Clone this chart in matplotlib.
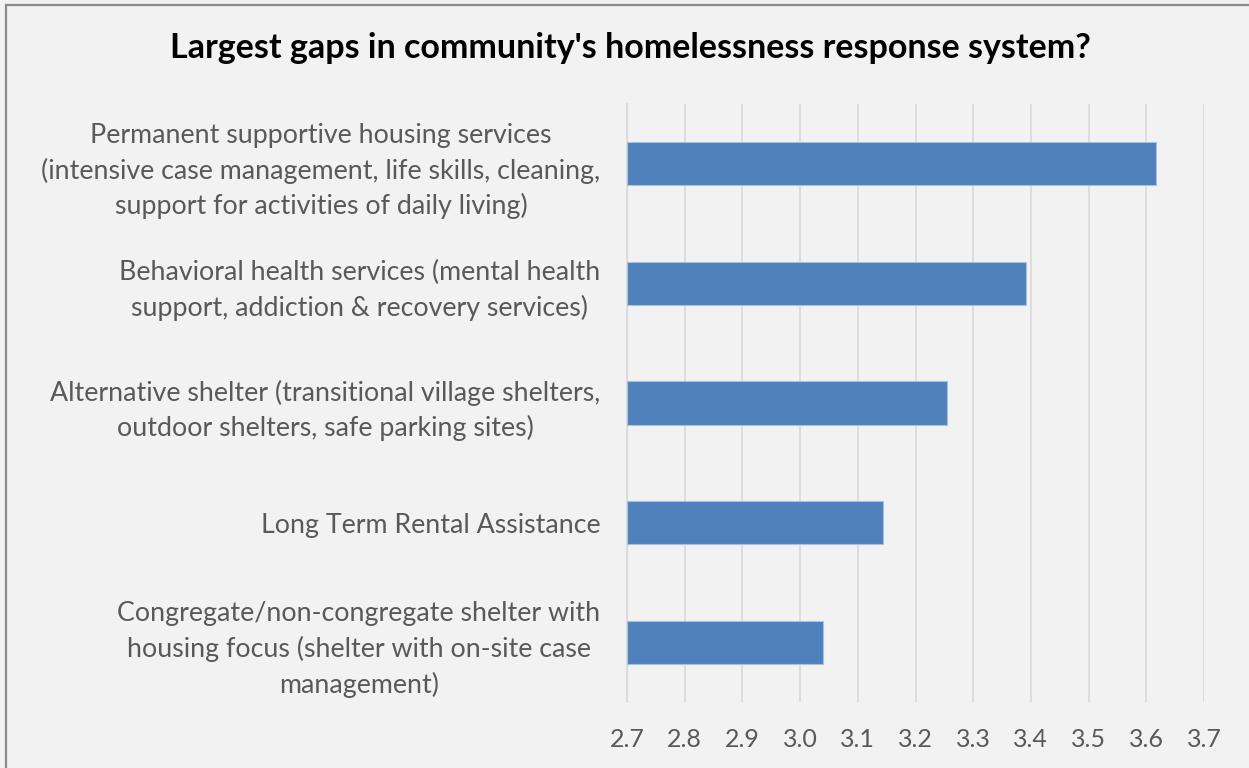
import matplotlib
matplotlib.use("Agg")
import matplotlib.pyplot as plt
from matplotlib.patches import Rectangle

categories = [
    "Permanent supportive housing services\n(intensive case management, life skills, cleaning,\nsupport for activities of daily living)",
    "Behavioral health services (mental health\nsupport, addiction & recovery services)",
    "Alternative shelter (transitional village shelters,\noutdoor shelters, safe parking sites)",
    "Long Term Rental Assistance",
    "Congregate/non-congregate shelter with\nhousing focus (shelter with on-site case\nmanagement)",
]
values = [3.617, 3.391, 3.254, 3.144, 3.040]
xticks = [2.7, 2.8, 2.9, 3.0, 3.1, 3.2, 3.3, 3.4, 3.5, 3.6, 3.7]
title = "Largest gaps in community's homelessness response system?"

BG = "#F2F2F2"
TXT = "#595959"
plt.rcParams["font.family"] = ["Lato", "DejaVu Sans"]

fig = plt.figure(figsize=(12.49, 7.68), dpi=100, facecolor=BG)
ax = fig.add_axes([627 / 1249, 1 - 702 / 768, (1204 - 627) / 1249, (702 - 104) / 768])
ax.set_facecolor(BG)

ypos = list(range(len(categories)))
ax.barh(ypos, [v - 2.7 for v in values], left=2.7, height=0.36,
        color="#4F81BD", edgecolor="#A9C0DE", linewidth=0.8, zorder=3)

ax.set_xlim(2.7, 3.7)
ax.set_ylim(len(categories) - 0.5, -0.5)
ax.set_xticks(xticks)
ax.set_xticklabels([f"{t:.1f}" for t in xticks])
ax.set_yticks(ypos)
ax.set_yticklabels(categories, ha="right", multialignment="center", linespacing=1.45)
ax.tick_params(axis="y", length=0, pad=19, labelsize=19.3, labelcolor=TXT)
ax.tick_params(axis="x", length=0, pad=19, labelsize=18, labelcolor=TXT)
ax.grid(axis="x", color="#D9D9D9", linewidth=1.2, zorder=0)
for s in ["top", "right", "bottom"]:
    ax.spines[s].set_visible(False)
ax.spines["left"].set_color("#D9D9D9")
ax.spines["left"].set_linewidth(1.2)

fig.text(0.505, 1 - 48 / 768, title, ha="center", va="center",
         fontsize=24.5, fontweight="bold", color="black")

fig.patches.append(Rectangle((6 / 1249, -0.05), 1.2, 1 - 5 / 768 + 0.05,
                             transform=fig.transFigure, fill=False,
                             edgecolor="#898989", linewidth=1.6))

fig.savefig("out.png", dpi=100, facecolor=BG)
